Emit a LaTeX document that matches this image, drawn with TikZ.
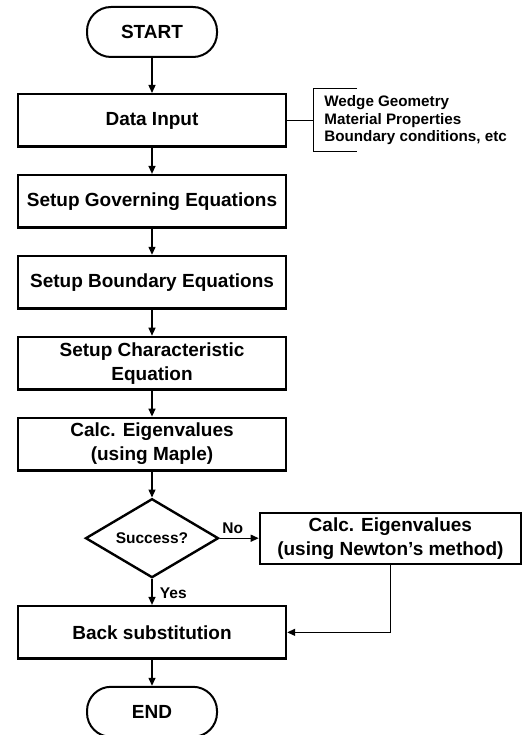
\documentclass[tikz,border=0pt]{standalone}
\usepackage{fontspec}
\setmainfont{Liberation Sans}
\usetikzlibrary{arrows.meta,positioning,shapes.geometric}

\begin{document}
\begin{tikzpicture}[node distance=26pt,
  every node/.style={font=\bfseries\fontsize{19}{24}\selectfont},
  term/.style={draw,line width=2pt,rounded corners=24pt,minimum width=130pt,minimum height=50pt},
  procbox/.style={draw,line width=2.4pt,minimum width=268pt,minimum height=52.5pt,align=center},
  decide/.style={draw,diamond,line width=2.4pt,aspect=1.67,inner sep=0pt,minimum width=133pt,minimum height=79pt,font=\bfseries\fontsize{15.5}{18}\selectfont},
  lbl/.style={font=\bfseries\fontsize{15.5}{18}\selectfont},
  arr/.style={-{Triangle[length=8pt,width=7pt]},line width=1.3pt}]
\useasboundingbox (0,0) rectangle (526pt,-735pt);
\node[term] (start) at (152pt,-32pt) {START};
\node[procbox,below=35pt of start] (data) {Data Input};
\node[procbox,below=of data] (gov) {Setup Governing Equations};
\node[procbox,below=of gov] (bnd) {Setup Boundary Equations};
\node[procbox,below=of bnd] (chr) {Setup Characteristic\\Equation};
\node[procbox,below=of chr] (maple) {Calc. Eigenvalues\\(using Maple)};
\node[decide,below=of maple] (ok) {Success?};
\node[draw,line width=2.4pt,minimum width=261pt,minimum height=51pt,align=center,right=39pt of ok] (newton) {Calc. Eigenvalues\\(using Newton's method)};
\node[procbox,below=of ok] (back) {Back substitution};
\node[term,below=of back] (end) {END};
% input data notes
\coordinate[right=26pt of data] (brk);
\node[align=left,anchor=west,inner sep=0pt,font=\bfseries\fontsize{15.2}{17.5}\selectfont] (notes) at ([xshift=11pt]brk) {Wedge Geometry\\Material Properties\\Boundary conditions, etc};
\draw[line width=1.3pt] (data.east) -- (brk);
\draw[line width=1.1pt] ([shift={(44pt,32pt)}]brk) -- ++(-44pt,0) -- ++(0,-63pt) -- ++(44pt,0);
% flow
\draw[arr] (start) -- (data);
\draw[arr] (data) -- (gov);
\draw[arr] (gov) -- (bnd);
\draw[arr] (bnd) -- (chr);
\draw[arr] (chr) -- (maple);
\draw[arr] (maple) -- (ok);
\draw[arr] (ok) -- node[lbl,above right,pos=0,inner sep=2pt,yshift=2pt] {No} (newton);
\draw[arr] (ok) -- node[lbl,right,pos=0.55,xshift=4pt] {Yes} (back);
\draw[arr] (newton.south) |- (back.east);
\draw[arr] (back) -- (end);
\end{tikzpicture}
\end{document}
